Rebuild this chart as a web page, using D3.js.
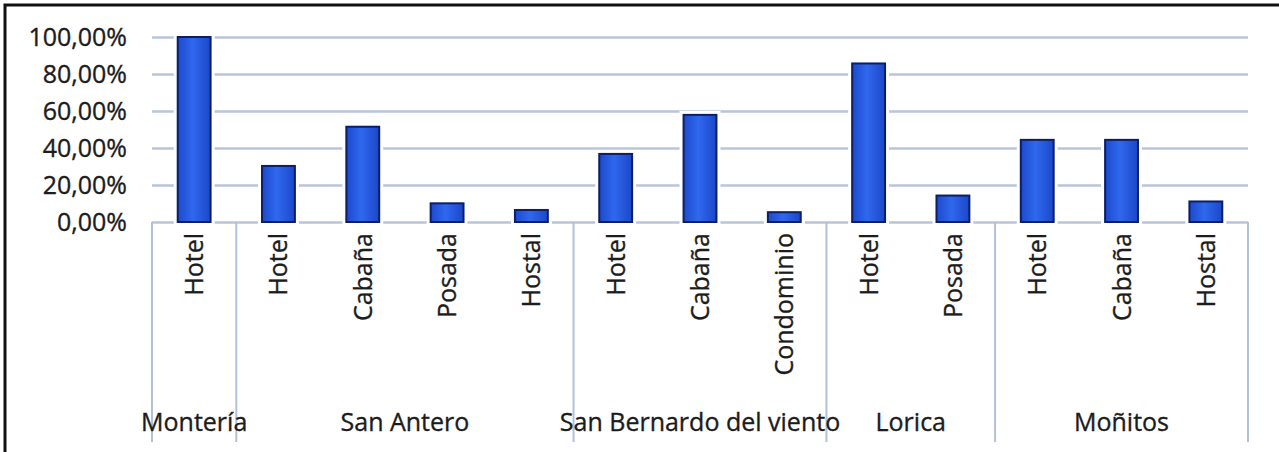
<!DOCTYPE html>
<html>
<head>
<meta charset="utf-8">
<script src="https://cdn.jsdelivr.net/npm/d3@7"></script>
<style>
  body { margin: 0; background: #fff; }
  text { font-family: "Open Sans", sans-serif; fill: #1c1c1c; stroke: #1c1c1c; stroke-width: 0.35; }
</style>
</head>
<body>
<div id="wrapper"></div>
<script>
// data
const cities = ["Montería", "San Antero", "San Bernardo del viento", "Lorica", "Moñitos"]
const types = ["Hotel", "Hotel", "Cabaña", "Posada", "Hostal", "Hotel", "Cabaña", "Condominio", "Hotel", "Posada", "Hotel", "Cabaña", "Hostal"]
const cityOf = [0, 1, 1, 1, 1, 2, 2, 2, 3, 3, 4, 4, 4]
const values = [1.0, 0.303, 0.515, 0.101, 0.065, 0.368, 0.579, 0.053, 0.857, 0.143, 0.444, 0.444, 0.111]
const yTicks = [0, 0.2, 0.4, 0.6, 0.8, 1.0]

function drawBarChart() {

  const dataset = types.map((t, i) => ({ i, type: t, city: cityOf[i], value: values[i] }))
  const xAccessor = d => d.i
  const yAccessor = d => d.value

  // 2. Create chart dimensions
  let dimensions = {
    width: 1279,
    height: 452,
    margin: { top: 37, right: 31, bottom: 230, left: 152 },
  }
  dimensions.boundedWidth = dimensions.width - dimensions.margin.left - dimensions.margin.right
  dimensions.boundedHeight = dimensions.height - dimensions.margin.top - dimensions.margin.bottom

  // 3. Draw canvas
  const wrapper = d3.select("#wrapper")
    .append("svg")
      .attr("width", dimensions.width)
      .attr("height", dimensions.height)

  const defs = wrapper.append("defs")
  const grad = defs.append("linearGradient")
      .attr("id", "barFill")
      .attr("x1", "0%").attr("x2", "100%")
      .attr("y1", "0%").attr("y2", "0%")
  grad.append("stop").attr("offset", "0%").attr("stop-color", "#1d49cc")
  grad.append("stop").attr("offset", "45%").attr("stop-color", "#2f68ee")
  grad.append("stop").attr("offset", "100%").attr("stop-color", "#1c47c8")

  // frame (only top and left are visible in the source)
  wrapper.append("path")
      .attr("d", "M5,452 V5 H1279")
      .attr("fill", "none")
      .attr("stroke", "#111")
      .attr("stroke-width", 3)

  const bounds = wrapper.append("g")
      .attr("transform", `translate(${dimensions.margin.left},${dimensions.margin.top})`)

  // 4. Create scales
  const xScale = d3.scaleBand()
    .domain(dataset.map(xAccessor))
    .range([0, dimensions.boundedWidth])
    .paddingInner(0.61)
    .paddingOuter(0.305)

  const yScale = d3.scaleLinear()
    .domain([0, 1])
    .range([dimensions.boundedHeight, 0])

  const locale = d3.formatLocale({ decimal: ",", thousands: ".", grouping: [3], currency: ["", "€"] })
  const pct = locale.format(".2%")

  // 6a. gridlines + y labels
  const yAxisGenerator = d3.axisLeft(yScale)
    .tickValues(yTicks)
    .tickFormat(pct)
    .tickSize(-dimensions.boundedWidth)
    .tickPadding(25)

  const yAxis = bounds.append("g").call(yAxisGenerator)
  yAxis.select(".domain").remove()
  yAxis.selectAll(".tick line")
      .attr("stroke", "#b8c5da")
      .attr("stroke-width", 2.5)
  yAxis.selectAll(".tick text")
      .attr("font-size", 25)
      .attr("fill", "#1c1c1c")
      .style("font-family", "'Open Sans', sans-serif")

  // 5. Draw data
  const pad = 4
  const bars = bounds.append("g").selectAll("g")
    .data(dataset)
    .join("g")

  bars.append("rect")
      .attr("x", d => xScale(xAccessor(d)) - pad)
      .attr("y", d => yScale(yAccessor(d)) - pad)
      .attr("width", xScale.bandwidth() + pad * 2)
      .attr("height", d => dimensions.boundedHeight - yScale(yAccessor(d)) + pad * 2)
      .attr("fill", "#fff")

  bars.append("rect")
      .attr("x", d => xScale(xAccessor(d)))
      .attr("y", d => yScale(yAccessor(d)))
      .attr("width", xScale.bandwidth())
      .attr("height", d => dimensions.boundedHeight - yScale(yAccessor(d)))
      .attr("fill", "url(#barFill)")
      .attr("stroke", "#0c1f66")
      .attr("stroke-width", 2)

  // 6b. category labels (rotated) and city groups
  const step = xScale.step()
  const edge = i => xScale(i) - (step - xScale.bandwidth()) / 2

  bounds.append("g").selectAll("text")
    .data(dataset)
    .join("text")
      .attr("transform", d => `translate(${xScale(xAccessor(d)) + xScale.bandwidth() / 2},${dimensions.boundedHeight + 11}) rotate(-90)`)
      .attr("text-anchor", "end")
      .attr("dy", "0.36em")
      .attr("font-size", 25)
      .text(d => d.type)

  const groups = cities.map((c, k) => {
    const idx = cityOf.map((g, i) => g === k ? i : -1).filter(i => i >= 0)
    const x0 = edge(idx[0])
    const x1 = edge(idx[idx.length - 1]) + step
    return { name: c, x0, x1 }
  })

  const seps = [groups[0].x0, ...groups.map(g => g.x1)]
  bounds.append("g").selectAll("line")
    .data(seps)
    .join("line")
      .attr("x1", d => d).attr("x2", d => d)
      .attr("y1", dimensions.boundedHeight)
      .attr("y2", dimensions.boundedHeight + 220)
      .attr("stroke", "#b3c1d8")
      .attr("stroke-width", 2)

  bounds.append("g").selectAll("text")
    .data(groups)
    .join("text")
      .attr("x", d => (d.x0 + d.x1) / 2)
      .attr("y", dimensions.boundedHeight + 200)
      .attr("dy", "0.36em")
      .attr("text-anchor", "middle")
      .attr("font-size", 25)
      .text(d => d.name)
}

drawBarChart()
</script>
</body>
</html>
